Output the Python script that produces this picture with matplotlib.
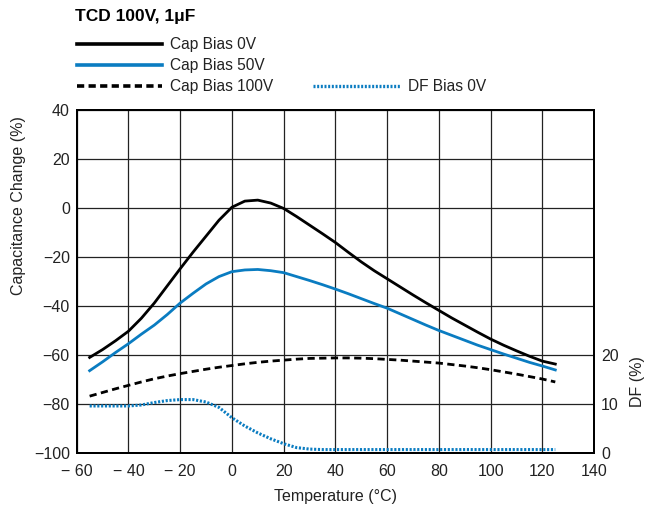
import matplotlib.pyplot as plt
from matplotlib.lines import Line2D

plt.rcParams['font.family'] = ['Liberation Sans', 'DejaVu Sans']

# temperatures (deg C)
temps = [-55, -50, -45, -40, -35, -30, -25, -20, -15, -10, -5, 0, 5, 10, 15, 20,
         25, 30, 35, 40, 45, 50, 55, 60, 65, 70, 75, 80, 85, 90, 95, 100, 105,
         110, 115, 120, 125]

# capacitance change (%)
cap_0v = [-61, -57.8, -54.2, -50.3, -45, -38.8, -31.8, -24.8, -18, -11.5, -5, 0.3,
          2.8, 3.2, 2, -0.2, -3.5, -7, -10.5, -14.1, -18.1, -22, -25.6, -28.9,
          -32.2, -35.5, -38.7, -41.8, -44.9, -47.8, -50.7, -53.5, -56, -58.3,
          -60.5, -62.5, -63.7]
cap_50v = [-66.4, -62.8, -59, -55.4, -51.5, -47.8, -43.5, -38.8, -34.8, -31, -28,
           -26, -25.3, -25.1, -25.6, -26.4, -28, -29.6, -31.3, -33.1, -35, -37,
           -39, -40.9, -43.2, -45.5, -47.8, -50, -52, -54, -56, -57.8, -59.6,
           -61.3, -63, -64.5, -66.1]
cap_100v = [-76.8, -75.3, -73.8, -72.4, -71, -69.7, -68.6, -67.6, -66.7, -65.8,
            -65, -64.3, -63.6, -63, -62.5, -62.1, -61.7, -61.4, -61.3, -61.2,
            -61.2, -61.3, -61.5, -61.8, -62.1, -62.5, -62.9, -63.3, -63.9, -64.5,
            -65.2, -66, -66.9, -67.8, -68.8, -69.8, -71]

# dissipation factor (%)
df_0v = [9.6, 9.6, 9.6, 9.6, 9.8, 10.3, 10.7, 10.9, 10.9, 10.4, 9.3, 7.2, 5.5,
         4.1, 2.9, 1.9, 1.1, 0.8, 0.7, 0.7, 0.7, 0.7, 0.7, 0.7, 0.7, 0.7, 0.7,
         0.7, 0.7, 0.7, 0.7, 0.7, 0.7, 0.7, 0.7, 0.7, 0.7]

x_ticks = [-60, -40, -20, 0, 20, 40, 60, 80, 100, 120, 140]
y_ticks = [40, 20, 0, -20, -40, -60, -80, -100]
df_ticks = [0, 10, 20]

BLUE = '#0a7cc1'
TXT = '#222222'
FS = 11.5

fig = plt.figure(figsize=(6.5, 5.09), dpi=100)
ax = fig.add_axes([0.118, 0.110, 0.796, 0.674])

ax.plot(temps, cap_0v, color='black', lw=2.0)
ax.plot(temps, cap_50v, color=BLUE, lw=2.0)
ax.plot(temps, cap_100v, color='black', lw=2.0, dashes=(2.6, 1.6))

ax.set_xlim(-60, 140)
ax.set_ylim(-100, 40)
ax.set_xticks(x_ticks)
ax.set_xticklabels([('\u2212 %d' % -t) if t < 0 else str(t) for t in x_ticks])
ax.set_yticks(y_ticks)
ax.set_yticklabels([('\u2212%d' % -t) if t < 0 else str(t) for t in y_ticks])
ax.grid(True, color='#222222', lw=0.9)
ax.set_axisbelow(True)
for s in ax.spines.values():
    s.set_linewidth(1.4)
ax.tick_params(length=0, labelsize=FS, pad=5, colors=TXT)
ax.tick_params(axis='x', pad=8)
ax.set_xlabel('Temperature (\u00b0C)', fontsize=FS, color=TXT, labelpad=7)
ax.set_ylabel('Capacitance Change (%)', fontsize=FS, color=TXT)
ax.yaxis.set_label_coords(-0.098, 0.72)

ax2 = ax.twinx()
ax2.plot(temps, df_0v, color=BLUE, lw=2.2, dashes=(0.7, 0.55))
ax2.set_ylim(0, 70)
ax2.set_yticks(df_ticks)
ax2.tick_params(length=0, labelsize=FS, pad=5, colors=TXT)
ax2.set_ylabel('DF (%)', fontsize=FS, color=TXT)
ax2.yaxis.set_label_coords(1.069, 0.207)
for s in ax2.spines.values():
    s.set_linewidth(1.4)

# header and legend
fig.text(0.115, 0.967, 'TCD 100V, 1\u03bcF', fontsize=12.5, fontweight='bold',
         va='center', ha='left')
rows = [0.913, 0.872, 0.831]
keys = [('Cap Bias 0V', 'black', None), ('Cap Bias 50V', BLUE, None),
        ('Cap Bias 100V', 'black', (2.0, 1.2))]
for yy, (lab, col, dsh) in zip(rows, keys):
    ln = Line2D([0.118, 0.249], [yy, yy], color=col, lw=2.6,
                transform=fig.transFigure)
    if dsh:
        ln.set_dashes(dsh)
    fig.add_artist(ln)
    fig.text(0.2615, yy, lab, fontsize=11.2, va='center', ha='left', color=TXT)
ln = Line2D([0.4815, 0.615], [rows[2], rows[2]], color=BLUE, lw=2.4,
            dashes=(0.6, 0.5), transform=fig.transFigure)
fig.add_artist(ln)
fig.text(0.628, rows[2], 'DF Bias 0V', fontsize=11.2, va='center', ha='left',
         color=TXT)

fig.savefig('out.png', dpi=100)
